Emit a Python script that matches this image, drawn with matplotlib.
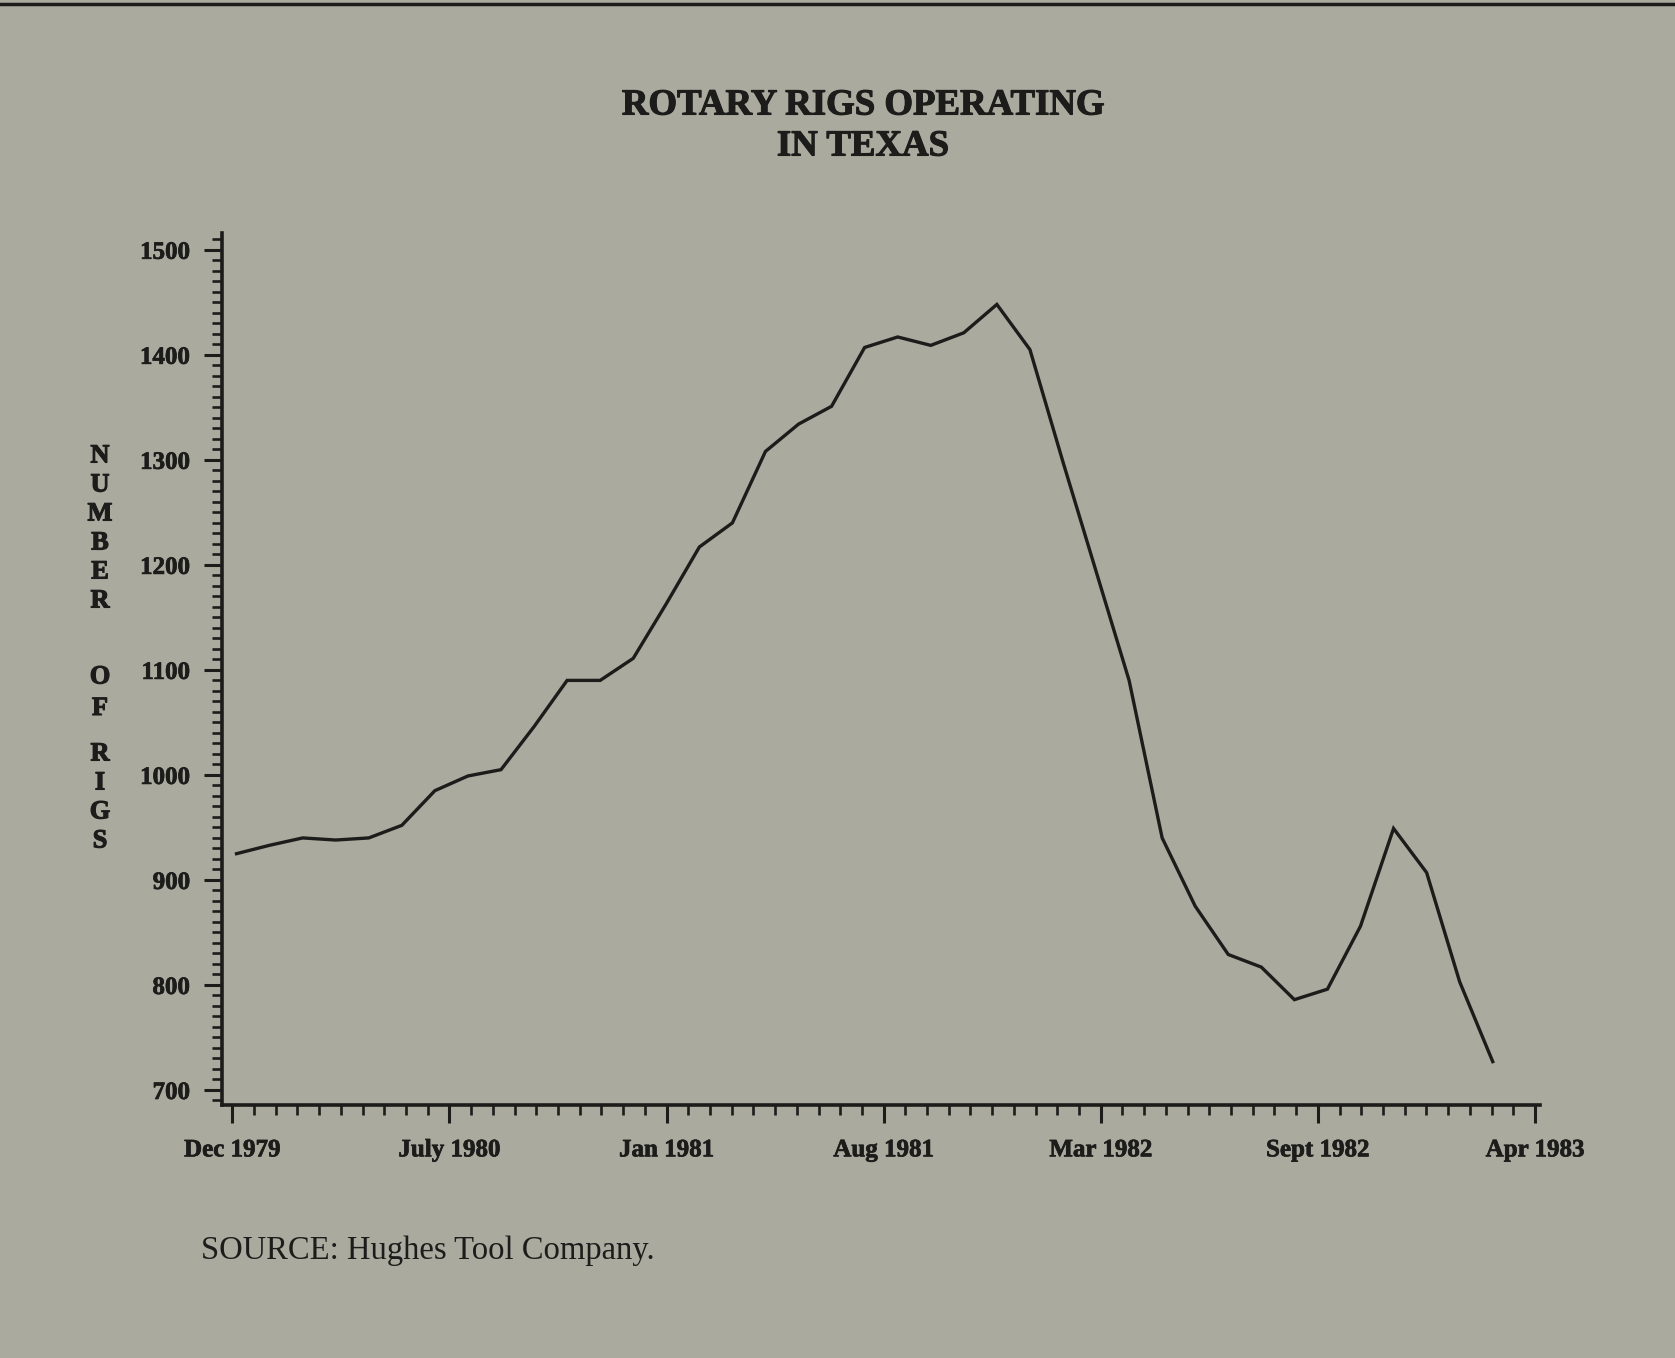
import numpy as np
import matplotlib
matplotlib.use("Agg")
import matplotlib.pyplot as plt
import matplotlib.patheffects as pe
from matplotlib.lines import Line2D

# Monthly rig counts, Dec 1979 .. Feb 1983
rigs = [925, 933, 940, 938, 940, 952, 985, 999, 1005, 1046,
        1090, 1090, 1111, 1163, 1217, 1240, 1308, 1334, 1351, 1407,
        1417, 1409, 1421, 1448, 1405, 1298, 1194, 1090, 940, 875,
        829, 817, 786, 796, 856, 949, 907, 803, 727]
tick_labels = ["Dec 1979", "July 1980", "Jan 1981", "Aug 1981",
               "Mar 1982", "Sept 1982", "Apr 1983"]
y_ticks = [700, 800, 900, 1000, 1100, 1200, 1300, 1400, 1500]
ylabel_words = ["NUMBER", "OF", "RIGS"]

paper = "#aaaa9f"
ink = "#1c1c1a"
heavy = [pe.withStroke(linewidth=0.8, foreground=ink)]

fig = plt.figure(figsize=(16.75, 13.58), dpi=100, facecolor=paper)
ax = fig.add_axes([222 / 1675, 1 - 1105 / 1358, (1540 - 222) / 1675, (1105 - 233) / 1358])
ax.set_facecolor(paper)

months = np.arange(len(rigs))
ax.plot(months, rigs, color=ink, linewidth=2.4, solid_joinstyle="miter")

# axis limits and ticks (the printed axis spaces its labels evenly)
ax.set_xlim(-0.44, 39.43)
ax.set_ylim(685.7, 1516)
major_x = np.linspace(-0.13, 39.28, len(tick_labels))
ax.set_xticks(major_x)
ax.set_xticklabels(tick_labels)
ax.set_xticks(np.linspace(-0.13, 39.28, 61), minor=True)
ax.set_yticks(y_ticks)
ax.set_yticklabels([str(v) for v in y_ticks])
ax.set_yticks(np.arange(690, 1511, 10), minor=True)

for side in ["top", "right"]:
    ax.spines[side].set_visible(False)
for side in ["left", "bottom"]:
    ax.spines[side].set_linewidth(2.6)
    ax.spines[side].set_color(ink)

ax.tick_params(which="major", direction="out", length=13, width=2.2, color=ink)
ax.tick_params(which="minor", direction="out", length=7.5, width=1.9, color=ink)
ax.tick_params(axis="y", which="major", pad=10)
ax.tick_params(axis="x", which="major", pad=11)
for lab in ax.get_xticklabels() + ax.get_yticklabels():
    lab.set_fontfamily("Liberation Serif")
    lab.set_fontweight("bold")
    lab.set_fontsize(18)
    lab.set_color(ink)
    lab.set_path_effects([pe.withStroke(linewidth=0.5, foreground=ink)])

# title
fig.text(863 / 1675, 1 - 105 / 1358, "ROTARY RIGS OPERATING", ha="center", va="center",
         fontsize=26.5, fontweight="bold", family="Liberation Serif", color=ink,
         path_effects=heavy)
fig.text(863 / 1675, 1 - 146 / 1358, "IN TEXAS", ha="center", va="center",
         fontsize=26.5, fontweight="bold", family="Liberation Serif", color=ink,
         path_effects=heavy)

# stacked vertical y label
word_tops = [456, 677, 754]
word_steps = [29, 31.5, 29]
for word, top, step in zip(ylabel_words, word_tops, word_steps):
    for i, ch in enumerate(word):
        fig.text(100 / 1675, 1 - (top + i * step) / 1358, ch, ha="center", va="center",
                 fontsize=19, fontweight="bold", family="Liberation Serif", color=ink,
                 path_effects=heavy)

# source note
fig.text(201 / 1675, 1 - 1251 / 1358, "SOURCE: Hughes Tool Company.", ha="left", va="center",
         fontsize=23.5, family="Liberation Serif", color=ink)

# rule across the top of the clipping
fig.add_artist(Line2D([0, 1], [0.997, 0.997], transform=fig.transFigure, color=ink, linewidth=2.5))

fig.savefig("out.png", dpi=100, facecolor=paper)
